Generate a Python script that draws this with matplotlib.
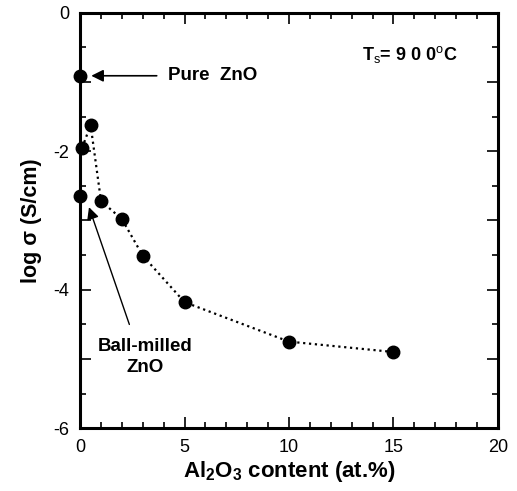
import numpy as np
import matplotlib.pyplot as plt
from matplotlib.ticker import MultipleLocator, FuncFormatter

plt.rcParams['font.family'] = ['Liberation Sans', 'DejaVu Sans']
plt.rcParams['mathtext.fontset'] = 'custom'
plt.rcParams['mathtext.rm'] = 'Liberation Sans'
plt.rcParams['mathtext.bf'] = 'Liberation Sans:bold'

# Al2O3-doped series (dotted curve)
al_content = [0.1, 0.5, 1.0, 2.0, 3.0, 5.0, 10.0, 15.0]
log_sigma = [-1.95, -1.62, -2.72, -2.98, -3.51, -4.18, -4.75, -4.90]

# reference points on the axis
pure_x, pure_y = 0.0, -0.91
milled_x, milled_y = 0.0, -2.65

fig = plt.figure(figsize=(5.17, 4.91), dpi=100)
ax = fig.add_axes([0.155, 0.128, 0.808, 0.846])

ax.plot(al_content, log_sigma, ':', color='black', lw=1.6, zorder=2)
ax.plot(al_content, log_sigma, 'o', color='black', ms=9, clip_on=False, zorder=3)
ax.plot([pure_x, milled_x], [pure_y, milled_y], 'o', color='black', ms=9,
        clip_on=False, zorder=3)

ax.set_xlim(0, 20)
ax.set_ylim(-6, 0)

ax.xaxis.set_major_locator(MultipleLocator(5))
ax.xaxis.set_minor_locator(MultipleLocator(1))
ax.yaxis.set_major_locator(MultipleLocator(1))
ax.yaxis.set_minor_locator(MultipleLocator(0.5))
ax.yaxis.set_major_formatter(FuncFormatter(lambda v, p: '%d' % v if int(round(v)) % 2 == 0 else ''))

ax.tick_params(which='both', direction='in', top=True, right=True, labelsize=13, width=1.2)
ax.tick_params(which='major', length=8, pad=8)
ax.tick_params(which='minor', length=4)
for s in ax.spines.values():
    s.set_linewidth(2.2)

ax.set_xlabel(r'Al$_\mathbf{2}$O$_\mathbf{3}$ content (at.%)', fontsize=16, fontweight='bold', labelpad=2)
ax.set_ylabel('log σ (S/cm)', fontsize=15.5, fontweight='bold', labelpad=8)

# annotations
ax.annotate('', xy=(0.4, pure_y), xytext=(3.8, pure_y),
            arrowprops=dict(arrowstyle='-|>', color='black', lw=1.2, mutation_scale=18))
ax.text(4.2, pure_y, 'Pure  ZnO', fontsize=13.5, fontweight='bold', va='center', ha='left')

ax.annotate('', xy=(0.38, -2.77), xytext=(2.4, -4.54),
            arrowprops=dict(arrowstyle='-|>', color='black', lw=1.0, mutation_scale=18))
ax.text(3.1, -4.97, 'Ball-milled\nZnO', fontsize=13.5, fontweight='bold', va='center', ha='center',
        linespacing=1.3)

ax.text(15.8, -0.6, r'T$_\mathrm{s}$= 9 0 0$^\mathrm{o}$C', fontsize=13, fontweight='bold',
        va='center', ha='center')

fig.savefig('out.png', dpi=100)
